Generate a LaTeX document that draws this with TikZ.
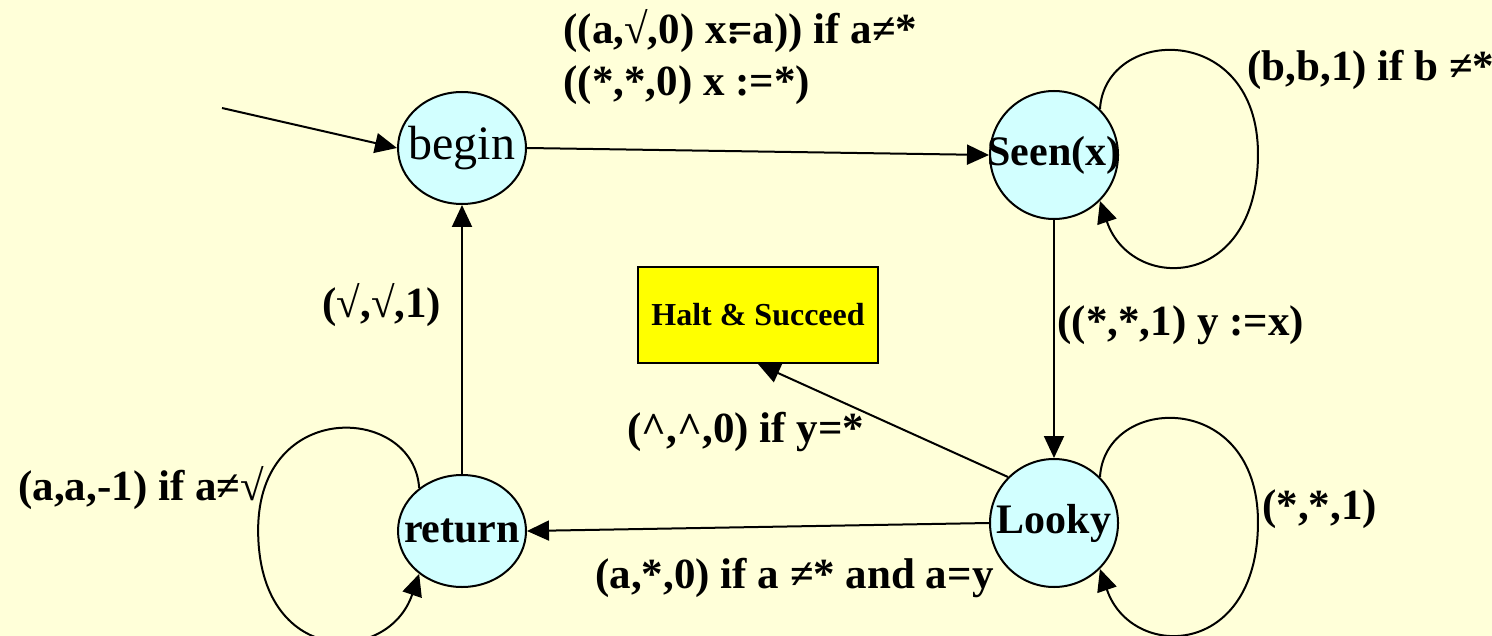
\documentclass[tikz,border=0pt]{standalone}
\usepackage{fontspec}
\setmainfont{Liberation Serif}
\usetikzlibrary{arrows.meta, shapes.geometric, positioning}
\definecolor{bgyellow}  {RGB}{255, 255, 217}
\definecolor{statecyan} {RGB}{210, 255, 255}
\definecolor{haltyellow}{RGB}{255, 255,   0}
\newcommand{\zw}[1]{\makebox[0pt]{#1}}

\begin{document}
\begin{tikzpicture}[x=0.5pt,y=-0.5pt,
		state/.style={draw,line width=1pt,fill=statecyan,ellipse,inner sep=0pt},
		ovalstate/.style={state,minimum width=64pt,minimum height=56pt},
		roundstate/.style={state,minimum width=64pt,minimum height=64pt},
		arr/.style={line width=1pt,-{Triangle[length=11pt,width=10pt]}},
		lbl/.style={anchor=west,inner sep=0pt,font=\bfseries\fontsize{21.5}{26}\selectfont}]
	\fill[bgyellow] (0,0) rectangle (1492,636);
	\useasboundingbox (0,0) rectangle (1492,636);
	\node[ovalstate,font=\fontsize{24}{28}\selectfont] (begin) at (462,148) {\zw{begin}};
	\node[roundstate,font=\bfseries\fontsize{21}{25}\selectfont] (seen) at (1054,155) {\zw{Seen(x)}};
	\node[roundstate,font=\bfseries\fontsize{21}{25}\selectfont] (looky) at (1054,523) {\zw{Looky}};
	\node[ovalstate,font=\bfseries\fontsize{21}{25}\selectfont] (ret) at (462,531) {\zw{return}};
	\node[draw,line width=1pt,fill=haltyellow,minimum width=120pt,minimum height=48pt,
		font=\bfseries\fontsize{16}{19}\selectfont] (halt) at (758,315) {Halt \& Succeed};
	\coordinate (init) at (222,108);
	\draw[arr] (init) -- (begin.west);
	\draw[arr] (begin.east) -- (seen.west);
	\draw[arr] (seen) -- (looky);
	\draw[arr] (looky.135) -- (halt.south);
	\draw[arr] (looky.west) -- (ret.east);
	\draw[arr] (ret) -- (begin);
	\draw[arr] (seen.45) .. controls +(5,-83) and +(0,-133) .. +(158,45)
		.. controls +(0,137) and +(31,92) .. (seen.-45);
	\draw[arr] (looky.45) .. controls +(5,-83) and +(0,-133) .. +(158,45)
		.. controls +(0,137) and +(31,92) .. (looky.-45);
	\draw[arr] (ret.135) .. controls +(-5,-83) and +(0,-133) .. +(-161,42)
		.. controls +(0,137) and +(-31,92) .. (ret.-135);
	\node[lbl] (lbeginA) at (563,31) {((a,√,0) x:\kern-.3em=a)) if a≠*};
	\node[lbl] (lbeginB) at (563,85) {((*,*,0) x :=*)};
	\node[lbl] (lseen) at (1247,70) {(b,b,1) if b ≠*};
	\node[lbl] (lseenlooky) at (1057,325) {((*,*,1) y :=x)};
	\node[lbl] (lret) at (322,305) {(√,√,1)};
	\node[lbl] (lhalt) at (627,432) {(\textasciicircum,\textasciicircum,0) if y=*};
	\node[lbl] (lretloop) at (18,488) {(a,a,-1) if a≠√};
	\node[lbl] (llooky) at (1262,509) {(*,*,1)};
	\node[lbl] (llookyret) at (595,578) {(a,*,0) if a ≠* and a=y};
\end{tikzpicture}
\end{document}
